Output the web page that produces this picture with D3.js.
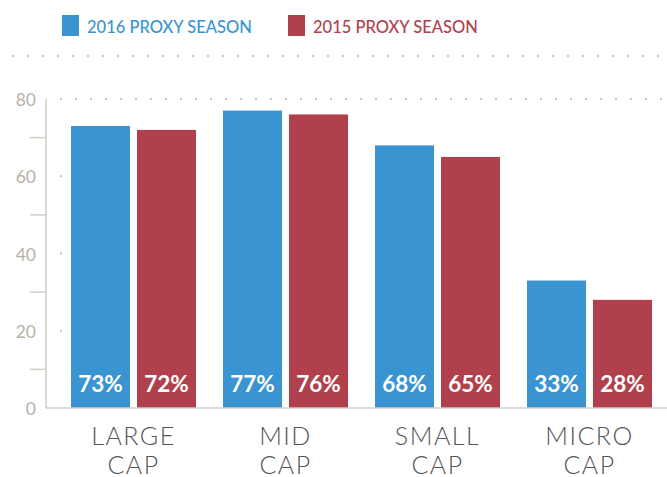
<!DOCTYPE html>
<meta charset="utf-8">
<head>
    <script src="https://d3js.org/d3.v7.min.js"></script>
    <style>
        html, body { margin: 0; padding: 0; background: #fff; }
        svg { display: block; font-family: Lato, "Open Sans", sans-serif; }
        .y-axis text { fill: #b8b1a9; font-size: 17.5px; }
        .cat-label { fill: #555; font-size: 25px; font-weight: 300; letter-spacing: 1.5px; }
        .val-label { fill: #fff; font-size: 22.5px; font-weight: bold; }
        .legend text { font-size: 16.5px; font-weight: 500; }
    </style>
</head>
<body>
<div id="chart"></div>
<script>
// データ
var categories = ["LARGE CAP", "MID CAP", "SMALL CAP", "MICRO CAP"];
var seriesNames = ["2016 PROXY SEASON", "2015 PROXY SEASON"];
var season2016 = [73, 77, 68, 33];
var season2015 = [72, 76, 65, 28];
var yTicks = [0, 20, 40, 60, 80];
var yMinorTicks = [10, 30, 50, 70];

var colors = ["#3a94d1", "#b0414c"];
var W = 667, H = 477;

var data = categories.map((c, i) => ({cat: c, values: [season2016[i], season2015[i]]}));

var svg = d3.select("#chart").append("svg")
    .attr("width", W).attr("height", H);

// スケール
var x0 = d3.scaleBand().domain(categories).range([57.5, 665.5]);
var x1 = d3.scaleBand().domain(seriesNames).range([0, x0.bandwidth()])
    .paddingInner(0.106).paddingOuter(0.2045);
var y = d3.scaleLinear().domain([0, 80]).range([408, 99]);

// 上の点線
svg.append("line")
    .attr("x1", 12).attr("x2", W).attr("y1", 56).attr("y2", 56)
    .attr("stroke", "#c9c3bc").attr("stroke-width", 2)
    .attr("stroke-dasharray", "2 13");

// 80 の点線
svg.append("line")
    .attr("x1", 60).attr("x2", W).attr("y1", y(80)).attr("y2", y(80))
    .attr("stroke", "#c9c3bc").attr("stroke-width", 2)
    .attr("stroke-dasharray", "2 13");

// 20/40/60 の点
svg.selectAll(".gdot").data(yTicks.filter(d => d > 0 && d < 80)).enter()
    .append("rect")
    .attr("x", 60).attr("y", d => y(d) - 1)
    .attr("width", 2).attr("height", 2)
    .attr("fill", "#c9c3bc");

// 凡例
var legend = svg.append("g").attr("class", "legend");
var legendX = [62, 288];
seriesNames.forEach((s, i) => {
    legend.append("rect")
        .attr("x", legendX[i]).attr("y", 15)
        .attr("width", 17).attr("height", 21)
        .attr("fill", colors[i]);
    legend.append("text")
        .attr("x", legendX[i] + 25).attr("y", 33)
        .attr("fill", colors[i])
        .text(s);
});

// y 軸
var yAxis = svg.append("g").attr("class", "y-axis");
yAxis.append("line")
    .attr("x1", 46).attr("x2", 46).attr("y1", y(80)).attr("y2", y(0))
    .attr("stroke", "#d3cdc6").attr("stroke-width", 1.5);
yAxis.selectAll(".minor").data(yMinorTicks).enter()
    .append("line")
    .attr("x1", 30).attr("x2", 46)
    .attr("y1", d => y(d)).attr("y2", d => y(d))
    .attr("stroke", "#d3cdc6").attr("stroke-width", 1.5);
yAxis.selectAll(".lbl").data(yTicks).enter()
    .append("text")
    .attr("x", 36).attr("y", d => y(d) + 7)
    .attr("text-anchor", "end")
    .text(d => d);

// 棒
var groups = svg.selectAll(".grp").data(data).enter()
    .append("g")
    .attr("transform", d => "translate(" + x0(d.cat) + ",0)");

groups.selectAll("rect")
    .data(d => d.values.map((v, i) => ({key: seriesNames[i], v: v, i: i})))
    .enter().append("rect")
    .attr("x", d => x1(d.key))
    .attr("y", d => y(d.v))
    .attr("width", x1.bandwidth())
    .attr("height", d => y(0) - y(d.v))
    .attr("fill", d => colors[d.i]);

groups.selectAll(".val-label")
    .data(d => d.values.map((v, i) => ({key: seriesNames[i], v: v})))
    .enter().append("text")
    .attr("class", "val-label")
    .attr("x", d => x1(d.key) + x1.bandwidth() / 2)
    .attr("y", 392)
    .attr("text-anchor", "middle")
    .text(d => d.v + "%");

// x 軸線
svg.append("line")
    .attr("x1", 46).attr("x2", W).attr("y1", y(0)).attr("y2", y(0))
    .attr("stroke", "#d3cdc6").attr("stroke-width", 1.5);

// カテゴリラベル (2行)
groups.append("text")
    .attr("class", "cat-label")
    .attr("text-anchor", "middle")
    .attr("x", x0.bandwidth() / 2)
    .selectAll("tspan")
    .data(d => d.cat.split(" "))
    .enter().append("tspan")
    .attr("x", x0.bandwidth() / 2)
    .attr("y", (d, i) => 445 + i * 29)
    .text(d => d);
</script>
</body>
